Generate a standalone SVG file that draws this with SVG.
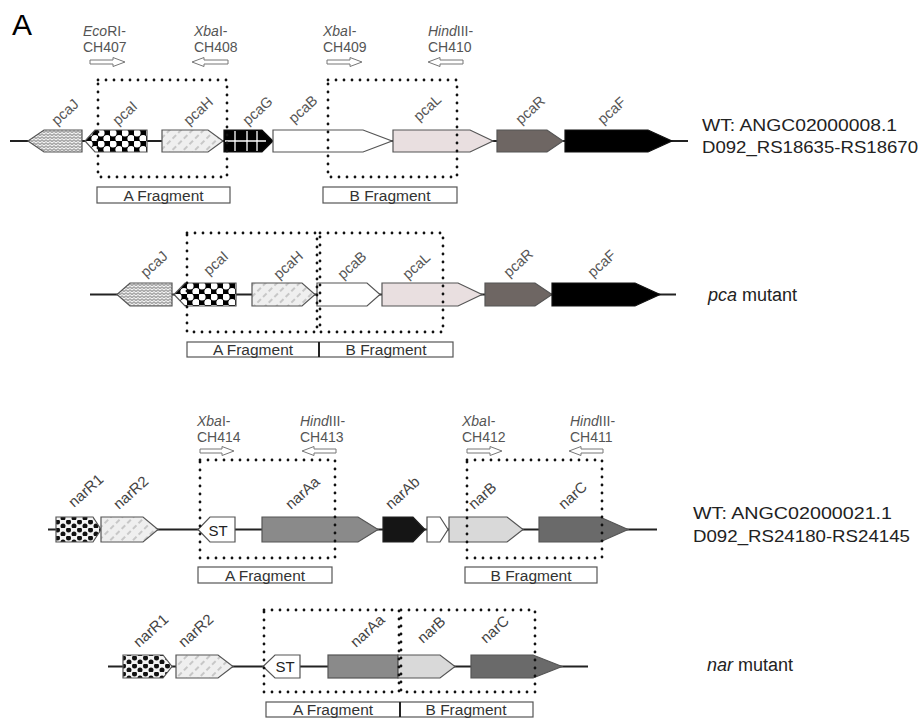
<svg xmlns="http://www.w3.org/2000/svg" width="921" height="720" viewBox="0 0 921 720">
<style>
.bb{stroke:#222;stroke-width:2;fill:none}
.g{stroke:#555;stroke-width:1.2}
.lab{font-family:"Liberation Sans",Arial,sans-serif;font-size:14.5px;fill:#555}
.nlab{font-family:"Liberation Sans",Arial,sans-serif;font-size:15px;fill:#444}
.pr{font-family:"Liberation Sans",Arial,sans-serif;font-size:14px;fill:#555}
.pa{fill:#fff;stroke:#777;stroke-width:1}
.dot{fill:none;stroke:#111;stroke-width:2.8;stroke-linecap:round;stroke-dasharray:0 8}
.fb{fill:#fff;stroke:#555;stroke-width:1.2}
.ft{font-family:"Liberation Sans",Arial,sans-serif;font-size:15.5px;fill:#333;text-anchor:middle}
.wt{font-family:"Liberation Sans",Arial,sans-serif;font-size:16.5px;fill:#222}
.mt{font-family:"Liberation Sans",Arial,sans-serif;font-size:18px;fill:#222}
.st{font-family:"Liberation Sans",Arial,sans-serif;font-size:15px;fill:#222;text-anchor:middle}
</style>
<defs>
<pattern id="zig" width="8" height="6" patternUnits="userSpaceOnUse">
<rect width="8" height="6" fill="#a8a8a8"/>
<polyline points="0,2 2,0.5 4,2 6,0.5 8,2" fill="none" stroke="#fff" stroke-width="1"/>
<polyline points="0,5 2,3.5 4,5 6,3.5 8,5" fill="none" stroke="#fff" stroke-width="1"/>
</pattern>
<pattern id="circ" width="12" height="11" patternUnits="userSpaceOnUse" x="86" y="130">
<rect width="12" height="11" fill="#000"/>
<circle cx="3" cy="3" r="3.6" fill="#fff"/>
<circle cx="9" cy="8.5" r="3.6" fill="#fff"/>
</pattern>
<pattern id="circ2" width="12" height="11" patternUnits="userSpaceOnUse" x="175" y="283">
<rect width="12" height="11" fill="#000"/>
<circle cx="3" cy="3" r="3.6" fill="#fff"/>
<circle cx="9" cy="8.5" r="3.6" fill="#fff"/>
</pattern>
<pattern id="hatch" width="8" height="8" patternUnits="userSpaceOnUse" patternTransform="rotate(-45)">
<rect width="8" height="8" fill="#efefef"/>
<line x1="0" y1="4" x2="8" y2="4" stroke="#a0a0a0" stroke-width="1" stroke-dasharray="5 3"/>
</pattern>
<pattern id="dots" width="11" height="8" patternUnits="userSpaceOnUse">
<rect width="11" height="8" fill="#f4f4f4"/>
<circle cx="2.5" cy="2" r="2.5" fill="#111"/>
<circle cx="8" cy="6" r="2.5" fill="#111"/>
</pattern>
</defs>
<rect width="921" height="720" fill="#fff"/>

<text x="12" y="35" font-family="Liberation Sans,Arial,sans-serif" font-size="30" fill="#000">A</text>

<g id="connectors">
<line class="bb" x1="10" y1="141" x2="688" y2="141"/>
<line class="bb" x1="90" y1="294.5" x2="676" y2="294.5"/>
<line class="bb" x1="48" y1="529.5" x2="657" y2="529.5"/>
<line class="bb" x1="108" y1="666.5" x2="588" y2="666.5"/>
</g>

<!-- WT pca -->
<g id="wt-pca">
<g id="pcaJ-1"><path class="g" fill="url(#zig)" d="M82,130 L44,130 L28,141 L44,152 L82,152 Z"/><text class="lab" transform="translate(57,126) rotate(-42)">pcaJ</text></g>
<g id="pcaI-1"><path class="g" fill="url(#circ)" stroke="#222" d="M147,130 L95,130 L85,141 L95,152 L147,152 Z"/><text class="lab" transform="translate(118,126) rotate(-42)">pcaI</text></g>
<g id="pcaH-1"><path class="g" fill="url(#hatch)" d="M162,130 L208,130 L223,141 L208,152 L162,152 Z"/><text class="lab" transform="translate(189,126) rotate(-42)">pcaH</text></g>
<g id="pcaG-1"><path fill="#000" stroke="#111" stroke-width="1.2" d="M224,130 L262,130 L273,141 L262,152 L224,152 Z"/>
<path d="M235,131 V151 M247,131 V151 M257,131 V151 M225,141 H266" stroke="#fff" stroke-width="1.3"/><text class="lab" transform="translate(248,126) rotate(-42)">pcaG</text></g>
<g id="pcaB-1"><path class="g" fill="#fff" d="M273,130 L363,130 L392,141 L363,152 L273,152 Z"/><text class="lab" transform="translate(294,124) rotate(-42)">pcaB</text></g>
<g id="pcaL-1"><path class="g" fill="#e9dfe0" d="M393,130 L470,130 L493,141 L470,152 L393,152 Z"/><text class="lab" transform="translate(419,122) rotate(-42)">pcaL</text></g>
<g id="pcaR-1"><path class="g" fill="#6e6663" d="M497,130 L547,130 L563,141 L547,152 L497,152 Z"/><text class="lab" transform="translate(521,125) rotate(-42)">pcaR</text></g>
<g id="pcaF-1"><path fill="#000" stroke="#111" stroke-width="1.2" d="M565,130 L648,130 L672,141 L648,152 L565,152 Z"/><text class="lab" transform="translate(603,125) rotate(-42)">pcaF</text></g>
</g>
<g id="wt-pca-primers">
<text class="pr" x="83" y="36"><tspan font-style="italic">Eco</tspan>RI-</text><text class="pr" x="83" y="52">CH407</text>
<path class="pa" d="M90,60 L113,60 L113,57.5 L125,62 L113,66.5 L113,64 L90,64 Z"/>
<text class="pr" x="194" y="36"><tspan font-style="italic">Xba</tspan>I-</text><text class="pr" x="194" y="52">CH408</text>
<path class="pa" d="M228,60 L204,60 L204,57.5 L192,62 L204,66.5 L204,64 L228,64 Z"/>
<text class="pr" x="323" y="36"><tspan font-style="italic">Xba</tspan>I-</text><text class="pr" x="323" y="52">CH409</text>
<path class="pa" d="M327,60 L350,60 L350,57.5 L362,62 L350,66.5 L350,64 L327,64 Z"/>
<text class="pr" x="428" y="36"><tspan font-style="italic">Hind</tspan>III-</text><text class="pr" x="428" y="52">CH410</text>
<path class="pa" d="M463,60 L440,60 L440,57.5 L428,62 L440,66.5 L440,64 L463,64 Z"/>
</g>
<g id="wt-pca-frag">
<rect class="dot" x="98" y="80" width="129" height="97"/>
<rect class="dot" x="328" y="80" width="129" height="97"/>
<rect class="fb" x="97" y="187" width="133" height="16"/><text class="ft" x="163.5" y="200.5">A Fragment</text>
<rect class="fb" x="323" y="187" width="134" height="16"/><text class="ft" x="390" y="200.5">B Fragment</text>
</g>
<g id="wt-pca-label">
<text class="wt" x="702" y="131" textLength="195" lengthAdjust="spacingAndGlyphs">WT: ANGC02000008.1</text>
<text class="wt" x="702" y="153" textLength="216" lengthAdjust="spacingAndGlyphs">D092_RS18635-RS18670</text>
</g>

<!-- pca mutant -->
<g id="mut-pca">
<g id="pcaJ-2"><path class="g" fill="url(#zig)" d="M172,283 L130,283 L117,294.5 L130,306 L172,306 Z"/><text class="lab" transform="translate(146,278) rotate(-42)">pcaJ</text></g>
<g id="pcaI-2"><path class="g" fill="url(#circ2)" stroke="#222" d="M236,283 L185,283 L174,294.5 L185,306 L236,306 Z"/><text class="lab" transform="translate(209,276) rotate(-42)">pcaI</text></g>
<g id="pcaH-2"><path class="g" fill="url(#hatch)" d="M252,283 L302,283 L315,294.5 L302,306 L252,306 Z"/><text class="lab" transform="translate(279,280) rotate(-42)">pcaH</text></g>
<g id="pcaB-2"><path class="g" fill="#fff" d="M317,283 L367,283 L380,294.5 L367,306 L317,306 Z"/><text class="lab" transform="translate(343,280) rotate(-42)">pcaB</text></g>
<g id="pcaL-2"><path class="g" fill="#e9dfe0" d="M382,283 L458,283 L482,294.5 L458,306 L382,306 Z"/><text class="lab" transform="translate(408,280) rotate(-42)">pcaL</text></g>
<g id="pcaR-2"><path class="g" fill="#6e6663" d="M485,283 L535,283 L552,294.5 L535,306 L485,306 Z"/><text class="lab" transform="translate(509,278) rotate(-42)">pcaR</text></g>
<g id="pcaF-2"><path fill="#000" stroke="#111" stroke-width="1.2" d="M552,283 L635,283 L660,294.5 L635,306 L552,306 Z"/><text class="lab" transform="translate(593,278) rotate(-42)">pcaF</text></g>
</g>
<g id="mut-pca-frag">
<rect class="dot" x="187" y="233" width="130" height="99"/>
<rect class="dot" x="320" y="233" width="123" height="99"/>
<rect class="fb" x="187" y="342" width="266" height="15"/>
<line x1="319" y1="342" x2="319" y2="357" stroke="#222" stroke-width="2"/>
<text class="ft" x="253" y="355">A Fragment</text><text class="ft" x="386" y="355">B Fragment</text>
</g>
<text class="mt" x="708" y="301"><tspan font-style="italic">pca</tspan> mutant</text>

<!-- WT nar -->
<g id="wt-nar">
<g id="narR1-1"><path class="g" fill="url(#dots)" d="M56,517 L93,517 L101,529.5 L93,542 L56,542 Z"/><text class="nlab" transform="translate(74,508) rotate(-42)">narR1</text></g>
<g id="narR2-1"><path class="g" fill="url(#hatch)" d="M101,517 L143,517 L158,529.5 L143,542 L101,542 Z"/><text class="nlab" transform="translate(119,510) rotate(-42)">narR2</text></g>
<g id="ST-1"><path class="g" fill="#fff" d="M235,517 L210,517 L198,529.5 L210,542 L235,542 Z"/><text class="st" x="218" y="536">ST</text></g>
<g id="narAa-1"><path class="g" fill="#8a8a8a" d="M262,517 L358,517 L378,529.5 L358,542 L262,542 Z"/><text class="nlab" transform="translate(291,510) rotate(-42)">narAa</text></g>
<g id="narAb-1"><path fill="#151515" stroke="#222" stroke-width="1.2" d="M383,517 L413,517 L425,529.5 L413,542 L383,542 Z"/><text class="nlab" transform="translate(391,510) rotate(-42)">narAb</text></g>
<g id="orf-1"><path class="g" fill="#fff" d="M427,517 L440,517 L448,529.5 L440,542 L427,542 Z"/></g>
<g id="narB-1"><path class="g" fill="#d9d9d9" d="M449,517 L507,517 L523,529.5 L507,542 L449,542 Z"/><text class="nlab" transform="translate(474,510) rotate(-42)">narB</text></g>
<g id="narC-1"><path class="g" fill="#6a6a6a" d="M539,517 L600,517 L628,529.5 L600,542 L539,542 Z"/><text class="nlab" transform="translate(564,510) rotate(-42)">narC</text></g>
</g>
<g id="wt-nar-primers">
<text class="pr" x="197" y="426"><tspan font-style="italic">Xba</tspan>I-</text><text class="pr" x="197" y="442">CH414</text>
<path class="pa" d="M200,449 L222,449 L222,446.5 L234,451 L222,455.5 L222,453 L200,453 Z"/>
<text class="pr" x="300" y="426"><tspan font-style="italic">Hind</tspan>III-</text><text class="pr" x="300" y="442">CH413</text>
<path class="pa" d="M336,449 L314,449 L314,446.5 L302,451 L314,455.5 L314,453 L336,453 Z"/>
<text class="pr" x="462" y="426"><tspan font-style="italic">Xba</tspan>I-</text><text class="pr" x="462" y="442">CH412</text>
<path class="pa" d="M467,449 L490,449 L490,446.5 L502,451 L490,455.5 L490,453 L467,453 Z"/>
<text class="pr" x="570" y="426"><tspan font-style="italic">Hind</tspan>III-</text><text class="pr" x="570" y="442">CH411</text>
<path class="pa" d="M603,449 L581,449 L581,446.5 L569,451 L581,455.5 L581,453 L603,453 Z"/>
</g>
<g id="wt-nar-frag">
<rect class="dot" x="200" y="460" width="135" height="98"/>
<rect class="dot" x="467" y="460" width="135" height="98"/>
<rect class="fb" x="198" y="567" width="134" height="16"/><text class="ft" x="265" y="580.5">A Fragment</text>
<rect class="fb" x="465" y="567" width="132" height="16"/><text class="ft" x="531" y="580.5">B Fragment</text>
</g>
<g id="wt-nar-label">
<text class="wt" x="693" y="519" textLength="199" lengthAdjust="spacingAndGlyphs">WT: ANGC02000021.1</text>
<text class="wt" x="693" y="542" textLength="217" lengthAdjust="spacingAndGlyphs">D092_RS24180-RS24145</text>
</g>

<!-- nar mutant -->
<g id="mut-nar">
<g id="narR1-2"><path class="g" fill="url(#dots)" d="M123,655 L163,655 L172,666.5 L163,678 L123,678 Z"/><text class="nlab" transform="translate(139,648) rotate(-42)">narR1</text></g>
<g id="narR2-2"><path class="g" fill="url(#hatch)" d="M176,655 L218,655 L233,666.5 L218,678 L176,678 Z"/><text class="nlab" transform="translate(184,648) rotate(-42)">narR2</text></g>
<g id="ST-2"><path class="g" fill="#fff" d="M300,655 L275,655 L263,666.5 L275,678 L300,678 Z"/><text class="st" x="285" y="672">ST</text></g>
<g id="narAa-2"><rect class="g" fill="#8a8a8a" x="328" y="655" width="70" height="23"/><text class="nlab" transform="translate(356,648) rotate(-42)">narAa</text></g>
<g id="narB-2"><path class="g" fill="#d9d9d9" d="M398,655 L440,655 L455,666.5 L440,678 L398,678 Z"/><text class="nlab" transform="translate(423,644) rotate(-42)">narB</text></g>
<g id="narC-2"><path class="g" fill="#6a6a6a" d="M471,655 L533,655 L562,666.5 L533,678 L471,678 Z"/><text class="nlab" transform="translate(486,644) rotate(-42)">narC</text></g>
</g>
<g id="mut-nar-frag">
<rect class="dot" x="264" y="610" width="135" height="82"/>
<rect class="dot" x="401" y="610" width="134" height="82"/>
<rect class="fb" x="266" y="702" width="267" height="15"/>
<line x1="400" y1="702" x2="400" y2="717" stroke="#222" stroke-width="2"/>
<text class="ft" x="333" y="715">A Fragment</text><text class="ft" x="466" y="715">B Fragment</text>
</g>
<text class="mt" x="707" y="671"><tspan font-style="italic">nar</tspan> mutant</text>
</svg>
